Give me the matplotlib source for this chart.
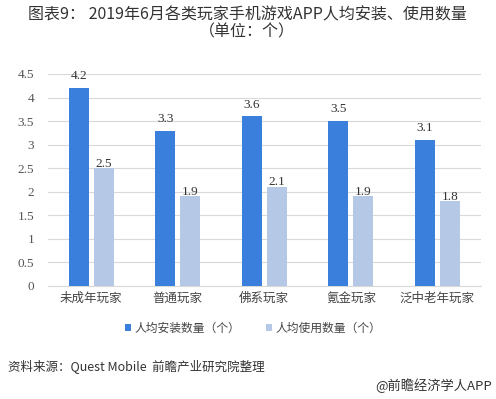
import matplotlib
matplotlib.use("Agg")
import matplotlib.pyplot as plt
import numpy as np

plt.rcParams['font.family'] = ['Noto Sans CJK SC', 'DejaVu Sans']

categories = ["未成年玩家", "普通玩家", "佛系玩家", "氪金玩家", "泛中老年玩家"]
install = [4.2, 3.3, 3.6, 3.5, 3.1]
usage = [2.5, 1.9, 2.1, 1.9, 1.8]
series_names = ["人均安装数量（个）", "人均使用数量（个）"]
yticks = [0, 0.5, 1, 1.5, 2, 2.5, 3, 3.5, 4, 4.5]
ytick_labels = ["0", "0.5", "1", "1.5", "2", "2.5", "3", "3.5", "4", "4.5"]

c1 = "#3A7FDB"
c2 = "#B5C9E6"

fig = plt.figure(figsize=(4.96, 3.99), dpi=100)
ax = fig.add_axes([48/496, 1-286/399, 432.5/496, 212/399])

x = np.arange(len(categories))
w = 0.23
off = 0.145
b1 = ax.bar(x - off, install, w, color=c1, label=series_names[0], zorder=3)
b2 = ax.bar(x + off, usage, w, color=c2, label=series_names[1], zorder=3)

for rect, v in zip(b1, install):
    ax.text(rect.get_x() + rect.get_width()/2, v + 0.12, f"{v}", ha="center", va="bottom",
            fontsize=9.5, family="Liberation Serif", color="#333333")
for rect, v in zip(b2, usage):
    ax.text(rect.get_x() + rect.get_width()/2, v - 0.03, f"{v}", ha="center", va="bottom",
            fontsize=9.5, family="Liberation Serif", color="#333333")

ax.set_xlim(-0.5, len(categories) - 0.5)
ax.set_ylim(0, 4.5)
ax.set_yticks(yticks)
ax.set_yticklabels(ytick_labels, family="Liberation Serif", fontsize=9.5, color="#555555")
ax.set_xticks(x)
ax.set_xticklabels(categories, fontsize=9, color="#444444")
ax.tick_params(axis="both", length=0, pad=4)
ax.tick_params(axis="y", pad=10)
ax.yaxis.grid(True, color="#D9D9D9", linewidth=0.8, zorder=0)
for s in ["top", "right", "left"]:
    ax.spines[s].set_visible(False)
ax.spines["bottom"].set_color("#D9D9D9")

leg = fig.legend(handles=[b1, b2], labels=series_names, loc="center", bbox_to_anchor=(253/496, 1-328/399),
                 ncol=2, frameon=False, fontsize=8.5, handlelength=0.55, handleheight=0.55,
                 handletextpad=0.25, columnspacing=2.2)
for t in leg.get_texts():
    t.set_color("#444444")

fig.text(247/496, 1-15/399, "图表9： 2019年6月各类玩家手机游戏APP人均安装、使用数量", ha="center", va="center",
         fontsize=11.5, color="#333333")
fig.text(247/496, 1-32/399, "（单位：个）", ha="center", va="center", fontsize=11.5, color="#333333")

fig.text(8/496, 1-367/399, "资料来源：Quest Mobile  前瞻产业研究院整理", ha="left", va="center",
         fontsize=9, style="italic", color="#333333")
fig.text(492/496, 1-386/399, "@前瞻经济学人APP", ha="right", va="center", fontsize=9.5, color="#333333")

fig.savefig("out.png", dpi=100)
